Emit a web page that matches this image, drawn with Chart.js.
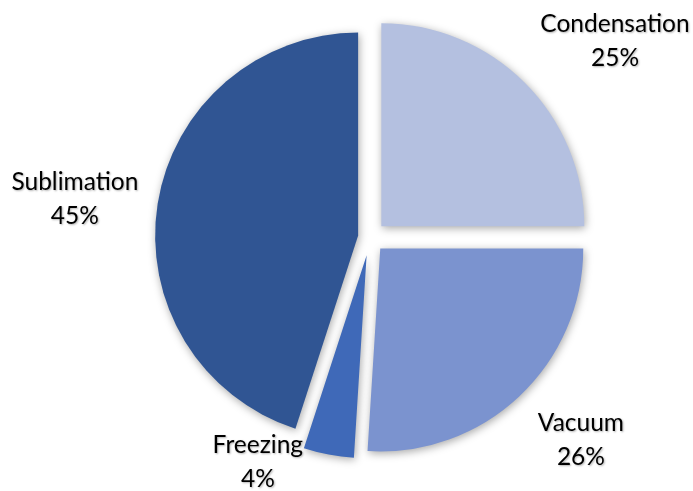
<!DOCTYPE html>
<html>
<head>
<meta charset="utf-8">
<script src="https://cdn.jsdelivr.net/npm/chart.js@4/dist/chart.umd.min.js"></script>
<style>
  html, body { margin: 0; padding: 0; background: #fff; }
  #wrap { width: 693px; height: 491px; }
</style>
</head>
<body>
<div id="wrap"><canvas id="pieChart"></canvas></div>
<script>
const stages = ["Condensation", "Vacuum", "Freezing", "Sublimation"];
const shares = [25, 26, 4, 45];
const sliceColors = ["#B4C0E0", "#7B93CF", "#3F69B8", "#305593"];
const explode = [16, 15, 18, 12];
// nudge for each label from the point just outside its slice
const labelShift = [[76, -27], [48, 29], [-67, -12], [-63, -2]];

// draws the slices pulled out along their middle angle, with a soft shadow
const explodedSlices = {
  id: "explodedSlices",
  beforeDatasetsDraw(chart) {
    const ctx = chart.ctx;
    const meta = chart.getDatasetMeta(0);
    meta.data.forEach((arc, i) => {
      const mid = (arc.startAngle + arc.endAngle) / 2;
      ctx.save();
      ctx.shadowColor = "rgba(0,0,0,0.35)";
      ctx.shadowBlur = 9;
      ctx.shadowOffsetX = 1;
      ctx.shadowOffsetY = 2;
      ctx.translate(Math.cos(mid) * explode[i], Math.sin(mid) * explode[i]);
      arc.draw(ctx);
      ctx.restore();
    });
    return false;
  }
};

const sliceLabels = {
  id: "sliceLabels",
  afterDraw(chart) {
    const ctx = chart.ctx;
    const meta = chart.getDatasetMeta(0);
    ctx.save();
    ctx.font = "24.5px Lato";
    ctx.fillStyle = "#000";
    ctx.textAlign = "center";
    ctx.textBaseline = "middle";
    ctx.shadowColor = "rgba(0,0,0,0.3)";
    ctx.shadowBlur = 2;
    ctx.shadowOffsetX = 1;
    ctx.shadowOffsetY = 1;
    meta.data.forEach((arc, i) => {
      const p = arc.getProps(["x", "y", "startAngle", "endAngle", "outerRadius"], true);
      const mid = (p.startAngle + p.endAngle) / 2;
      const off = explode[i];
      const r = p.outerRadius + 20;
      const cx = p.x + Math.cos(mid) * off;
      const cy = p.y + Math.sin(mid) * off;
      const lx = cx + Math.cos(mid) * r + labelShift[i][0];
      const ly = cy + Math.sin(mid) * r + labelShift[i][1];
      ctx.fillText(stages[i], lx, ly - 17);
      ctx.fillText(shares[i] + "%", lx, ly + 17);
    });
    ctx.restore();
  }
};

new Chart(document.getElementById("pieChart"), {
  type: "pie",
  data: {
    labels: stages,
    datasets: [{
      data: shares,
      backgroundColor: sliceColors,
      borderWidth: 0
    }]
  },
  options: {
    responsive: true,
    maintainAspectRatio: false,
    animation: false,
    radius: 203,
    layout: { padding: { left: 47, right: 0, top: 27, bottom: 43 } },
    plugins: {
      legend: { display: false },
      tooltip: { enabled: false }
    }
  },
  plugins: [explodedSlices, sliceLabels]
});
</script>
</body>
</html>
